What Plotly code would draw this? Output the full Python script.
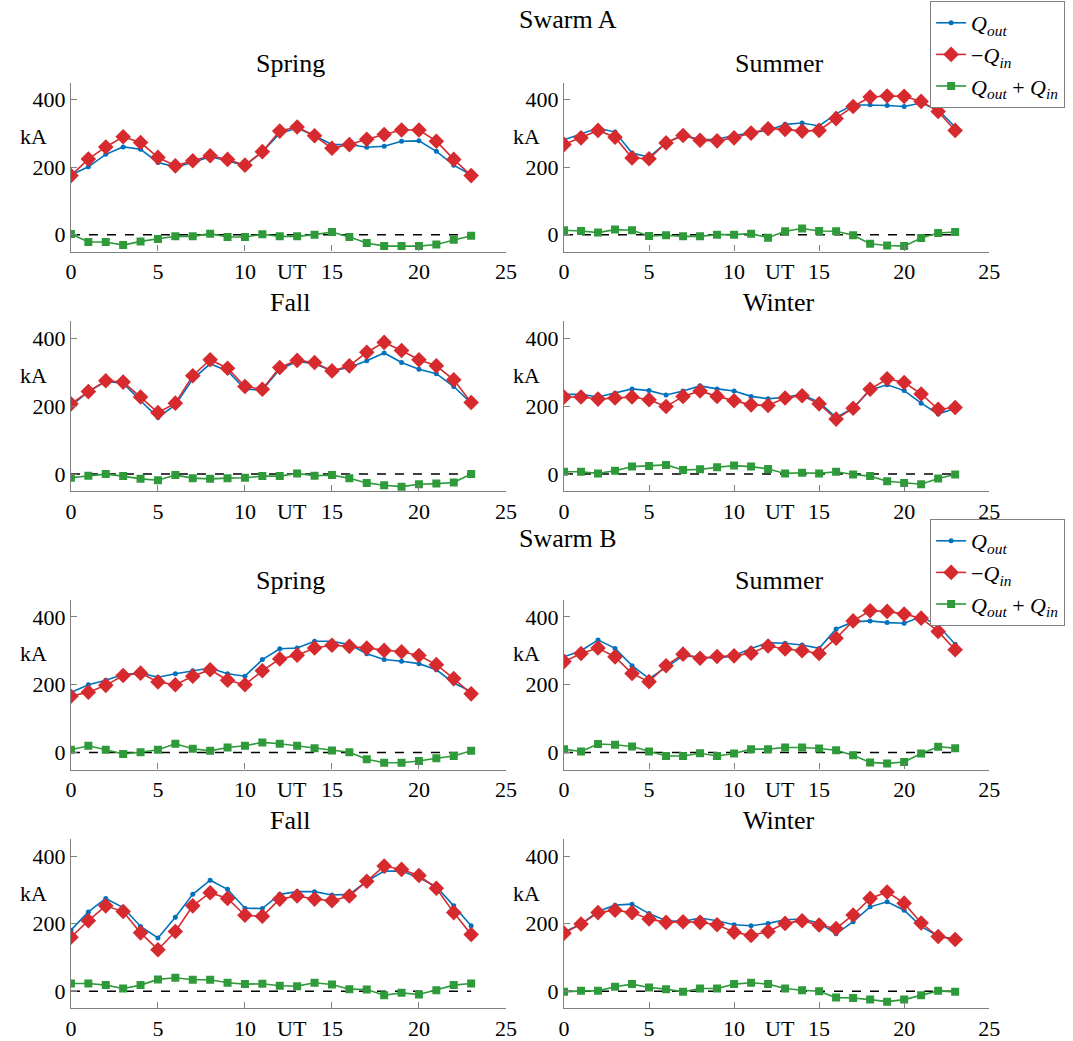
import plotly.graph_objects as go

# UT hour bins
hours = list(range(24))

# ---- Swarm A (kA) ----
a_spring_qout = [177, 201, 238, 260, 253, 214, 201, 214, 231, 219, 204, 246,
                 300, 316, 293, 267, 267, 259, 262, 277, 278, 247, 206, 177]
a_spring_qin = [175, 224, 260, 290, 273, 229, 204, 219, 234, 223, 206, 246,
                307, 319, 293, 256, 267, 283, 297, 310, 310, 277, 223, 175]
a_spring_sum = [2, -22, -22, -31, -20, -13, -5, -5, 3, -7, -7, 1,
                -5, -5, 0, 8, -7, -25, -34, -34, -34, -29, -15, -3]

a_summer_qout = [281, 299, 316, 304, 242, 230, 272, 296, 281, 283, 294, 302,
                 309, 327, 331, 322, 358, 385, 385, 383, 380, 390, 370, 319]
a_summer_qin = [267, 287, 309, 289, 227, 225, 272, 294, 280, 278, 287, 301,
                314, 312, 307, 309, 344, 380, 408, 411, 410, 395, 365, 309]
a_summer_sum = [13, 11, 6, 15, 13, -4, -2, -5, -5, 0, 0, 3,
                -9, 10, 18, 11, 10, -2, -27, -32, -34, -10, 5, 8]

a_fall_qout = [201, 243, 273, 268, 216, 167, 204, 280, 325, 304, 250, 248,
               309, 332, 325, 304, 314, 334, 357, 329, 309, 296, 258, 209]
a_fall_qin = [207, 243, 275, 271, 227, 181, 209, 290, 337, 312, 258, 250,
              314, 335, 329, 304, 319, 359, 388, 364, 337, 319, 278, 211]
a_fall_sum = [-11, -5, 0, -6, -14, -18, -3, -12, -14, -12, -11, -6,
              -6, 2, -5, -3, -12, -26, -33, -37, -30, -28, -25, 0]

a_winter_qout = [235, 235, 227, 238, 251, 246, 233, 245, 260, 251, 245, 229,
                 222, 226, 235, 211, 167, 194, 248, 263, 246, 209, 177, 194]
a_winter_qin = [227, 227, 221, 224, 227, 219, 199, 229, 245, 229, 216, 204,
                202, 224, 231, 207, 162, 194, 250, 281, 270, 236, 191, 196]
a_winter_sum = [7, 7, 2, 10, 22, 24, 27, 12, 14, 20, 25, 22,
                15, 2, 4, 2, 7, -1, -6, -21, -26, -30, -13, -1]

# ---- Swarm B (kA) ----
b_spring_qout = [177, 200, 213, 230, 234, 222, 232, 241, 249, 232, 225, 274,
                 306, 308, 328, 328, 318, 291, 274, 269, 262, 244, 205, 180]
b_spring_qin = [166, 178, 198, 227, 234, 208, 200, 225, 244, 213, 200, 241,
                276, 287, 308, 316, 313, 308, 301, 297, 286, 259, 218, 173]
b_spring_sum = [8, 20, 8, -4, 1, 8, 26, 11, 5, 15, 20, 30,
                26, 20, 13, 6, 1, -20, -30, -30, -25, -17, -10, 5]

b_summer_qout = [282, 300, 332, 307, 256, 218, 251, 285, 282, 277, 285, 307,
                 324, 322, 317, 307, 364, 385, 388, 383, 381, 400, 375, 319]
b_summer_qin = [268, 292, 308, 282, 233, 209, 256, 290, 278, 283, 285, 293,
                314, 305, 300, 292, 337, 388, 418, 416, 408, 396, 357, 303]
b_summer_sum = [10, 3, 25, 23, 18, 3, -10, -10, -2, -10, -3, 10,
                10, 15, 15, 12, 7, -8, -29, -32, -28, -3, 17, 13]

b_fall_qout = [181, 235, 275, 248, 192, 158, 219, 287, 329, 302, 246, 245,
               287, 295, 295, 285, 287, 326, 356, 356, 336, 310, 253, 194]
b_fall_qin = [160, 209, 253, 236, 173, 123, 177, 253, 292, 275, 225, 222,
              273, 282, 273, 268, 282, 326, 371, 361, 343, 305, 233, 168]
b_fall_sum = [23, 23, 18, 8, 18, 35, 40, 34, 34, 25, 21, 22,
              16, 15, 25, 20, 6, 5, -12, -5, -10, 3, 18, 23]

b_winter_qout = [175, 199, 236, 255, 258, 230, 209, 207, 217, 209, 197, 194,
                 201, 212, 214, 202, 170, 206, 250, 265, 240, 192, 163, 155]
b_winter_qin = [172, 199, 233, 240, 233, 214, 204, 206, 204, 197, 175, 165,
                177, 201, 209, 196, 186, 226, 275, 294, 261, 202, 162, 153]
b_winter_sum = [-2, 1, 1, 13, 21, 11, 6, -2, 8, 8, 21, 25,
                21, 8, 3, 0, -19, -20, -25, -31, -25, -12, 1, -2]

season_names = ["Spring", "Summer", "Fall", "Winter"]
group_titles = ["Swarm A", "Swarm B"]
x_ticks = [0, 5, 10, 15, 20, 25]
y_ticks = [0, 200, 400]

panels = [
    ("Swarm A", "Spring", a_spring_qout, a_spring_qin, a_spring_sum),
    ("Swarm A", "Summer", a_summer_qout, a_summer_qin, a_summer_sum),
    ("Swarm A", "Fall", a_fall_qout, a_fall_qin, a_fall_sum),
    ("Swarm A", "Winter", a_winter_qout, a_winter_qin, a_winter_sum),
    ("Swarm B", "Spring", b_spring_qout, b_spring_qin, b_spring_sum),
    ("Swarm B", "Summer", b_summer_qout, b_summer_qin, b_summer_sum),
    ("Swarm B", "Fall", b_fall_qout, b_fall_qin, b_fall_sum),
    ("Swarm B", "Winter", b_winter_qout, b_winter_qin, b_winter_sum),
]

W, H = 1073, 1041
FONT = "Liberation Serif"
BLUE = "#0072BD"
RED = "#D62A2E"
GREEN = "#2E9A3A"
AXIS = "#808080"

# panel boxes in pixels: columns (left, right), rows (top, bottom)
cols_px = [(66, 508), (567, 999)]
rows_px = [(83, 252), (322, 492), (601, 771), (841, 1010)]


def px_x(p):
    return p / W


def px_y(p):
    return 1 - p / H


def label(text, xp, yp, size):
    return dict(text=text, x=px_x(xp), y=px_y(yp), xref="paper", yref="paper",
                xanchor="center", yanchor="middle", showarrow=False,
                font=dict(family=FONT, size=size, color="black"))


fig = go.Figure()
annotations = []
layout_axes = {}

for i, (group, season, qout, qin, qsum) in enumerate(panels):
    r, c = divmod(i, 2)
    n = i + 1
    xa = "x" if n == 1 else f"x{n}"
    ya = "y" if n == 1 else f"y{n}"
    legend_name = "legend" if group == "Swarm A" else "legend2"
    show = (c == 1 and r % 2 == 0)

    fig.add_trace(go.Scatter(
        x=[hours[0], hours[-1]], y=[0, 0], mode="lines",
        line=dict(color="black", width=1.5, dash="dash"),
        xaxis=xa, yaxis=ya, showlegend=False, hoverinfo="skip"))
    fig.add_trace(go.Scatter(
        x=hours, y=qout, mode="lines+markers",
        name="<i>Q</i><sub><i>out</i></sub>",
        line=dict(color=BLUE, width=1.6),
        marker=dict(symbol="circle", size=5, color=BLUE),
        xaxis=xa, yaxis=ya, showlegend=show, legend=legend_name))
    fig.add_trace(go.Scatter(
        x=hours, y=qin, mode="lines+markers",
        name="\u2212<i>Q</i><sub><i>in</i></sub>",
        line=dict(color=RED, width=1.6),
        marker=dict(symbol="diamond", size=12, color=RED),
        xaxis=xa, yaxis=ya, showlegend=show, legend=legend_name))
    fig.add_trace(go.Scatter(
        x=hours, y=qsum, mode="lines+markers",
        name="<i>Q</i><sub><i>out</i></sub> + <i>Q</i><sub><i>in</i></sub>",
        line=dict(color=GREEN, width=1.6),
        marker=dict(symbol="square", size=8, color=GREEN),
        xaxis=xa, yaxis=ya, showlegend=show, legend=legend_name))

    x0, x1 = cols_px[c]
    y0, y1 = rows_px[r]
    xkey = "xaxis" if n == 1 else f"xaxis{n}"
    ykey = "yaxis" if n == 1 else f"yaxis{n}"
    layout_axes[xkey] = dict(
        domain=[px_x(x0), px_x(x1)], anchor=ya, range=[0, 25],
        tickvals=x_ticks, ticks="inside", ticklen=6, tickcolor=AXIS,
        showline=True, linecolor=AXIS, linewidth=1.2, showgrid=False,
        zeroline=False, tickfont=dict(family=FONT, size=22, color="black"))
    layout_axes[ykey] = dict(
        domain=[px_y(y1), px_y(y0)], anchor=xa, range=[-50, 450],
        tickvals=y_ticks, ticks="inside", ticklen=6, tickcolor=AXIS,
        showline=True, linecolor=AXIS, linewidth=1.2, showgrid=False,
        zeroline=False, tickfont=dict(family=FONT, size=22, color="black"))

    # panel title, y unit and x label
    annotations.append(label(season, (x0 + x1) / 2 + 2, y0 - 19, 26))
    annotations.append(label("kA", x0 - 38, y0 + 54, 22))
    annotations.append(label("UT", x0 + (x1 - x0) * 12.7 / 25, y1 + 20, 22))

# group headings
for title, ypx in zip(group_titles, [20, 540]):
    annotations.append(label(title, 571, ypx, 26))

legend_style = dict(
    xanchor="left", yanchor="top", x=px_x(939),
    bgcolor="white", bordercolor=AXIS, borderwidth=1,
    font=dict(family=FONT, size=22, color="black"),
    tracegroupgap=0, itemwidth=30)

fig.update_layout(
    width=W, height=H,
    margin=dict(l=0, r=0, t=0, b=0),
    paper_bgcolor="white", plot_bgcolor="white",
    annotations=annotations,
    legend=dict(y=px_y(1), **legend_style),
    legend2=dict(y=px_y(520), **legend_style),
    **layout_axes)

fig.write_html("out.html")
